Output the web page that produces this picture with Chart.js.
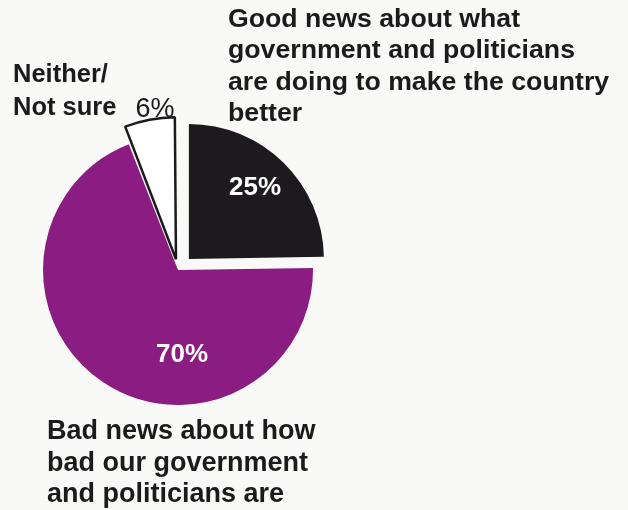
<!DOCTYPE html>
<html>
<head>
<meta charset="utf-8">
<script src="https://cdn.jsdelivr.net/npm/chart.js@4"></script>
<style>
  body { margin: 0; background: #f9f9f7; }
  #wrap { position: relative; width: 628px; height: 510px; }
  .lbl { position: absolute; font-family: "Liberation Sans", Arial, sans-serif; font-weight: bold; color: #1b1a1c; white-space: nowrap; }
</style>
</head>
<body>
<div id="wrap">
  <canvas id="myChart" width="628" height="510"></canvas>
  <div class="lbl" style="left:228px; top:3px; font-size:26.7px; line-height:31.3px;">Good news about what<br>government and politicians<br>are doing to make the country<br>better</div>
  <div class="lbl" style="left:13px; top:57px; font-size:25.5px; line-height:33px;">Neither/<br>Not sure</div>
  <div class="lbl" style="left:47px; top:415px; font-size:27px; line-height:31.5px;">Bad news about how<br>bad our government<br>and politicians are</div>
</div>
<script>
// clockwise from 12 o'clock
const categories = ['Good news', 'Bad news', 'Neither/Not sure'];
const values = [25, 70, 6];
const pctLabels = ['25%', '70%', '6%'];

const colors = ['#1c1a1d', '#8a1c82', '#ffffff'];
// chart.js moves an arc by offset/4
const offsets = [62, 0, 44];
const borders = [0, 0, 2.5];
// label position relative to pie centre, and how it's drawn
const labelPos = [[77, -82], [4, 85], [-23, -160]];
const labelStyle = [
    { font: 'bold 26px "Liberation Sans", Arial, sans-serif', color: '#ffffff' },
    { font: 'bold 26px "Liberation Sans", Arial, sans-serif', color: '#ffffff' },
    { font: '27px "Liberation Sans", Arial, sans-serif', color: '#1b1a1c' }
];

const pctPlugin = {
    id: 'pctLabels',
    afterDatasetsDraw(chart) {
        const ctx = chart.ctx;
        const arcs = chart.getDatasetMeta(0).data;
        ctx.save();
        ctx.textAlign = 'center';
        ctx.textBaseline = 'middle';
        arcs.forEach((arc, i) => {
            ctx.font = labelStyle[i].font;
            ctx.fillStyle = labelStyle[i].color;
            ctx.fillText(pctLabels[i], arc.x + labelPos[i][0], arc.y + labelPos[i][1]);
        });
        ctx.restore();
    }
};

const ctx = document.getElementById('myChart').getContext('2d');
const myChart = new Chart(ctx, {
    type: 'pie',
    data: {
        labels: categories,
        datasets: [{
            data: values,
            backgroundColor: colors,
            borderColor: '#1b1a1c',
            borderWidth: borders,
            offset: offsets
        }]
    },
    options: {
        responsive: false,
        animation: false,
        events: [],
        radius: 135,
        layout: { padding: { left: 0, right: 272, top: 30, bottom: 0 } },
        plugins: {
            legend: { display: false },
            tooltip: { enabled: false }
        }
    },
    plugins: [pctPlugin]
});
</script>
</body>
</html>
